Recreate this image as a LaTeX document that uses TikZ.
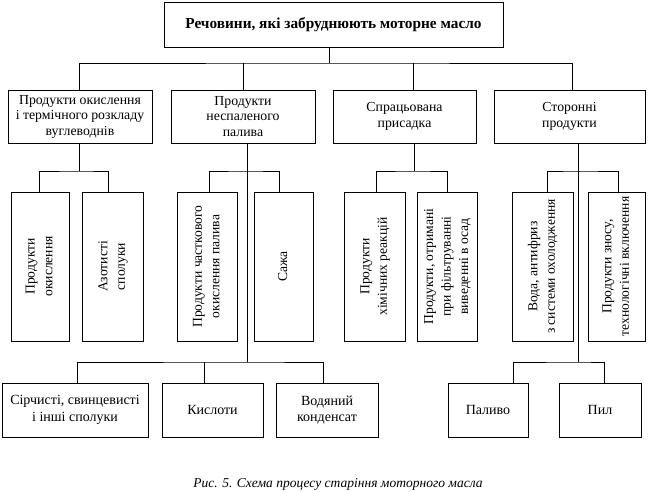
\documentclass[tikz,border=0pt]{standalone}
\usepackage{fontspec}
\usepackage{graphicx}
\setmainfont{Liberation Serif}
\newcommand{\vtext}[1]{\rotatebox{90}{\begin{tabular}{@{}c@{}}#1\end{tabular}}}
\tikzset{
  box/.style={draw, line width=0.9pt, inner sep=0pt, align=center},
  catbox/.style={box, minimum height=53pt, font=\fontsize{13.8}{15.5}\selectfont},
  vbox/.style={box, minimum height=149pt, font=\fontsize{13.6}{17.5}\selectfont},
  botbox/.style={box, minimum height=54pt, font=\fontsize{14}{16.5}\selectfont},
  conn/.style={line width=0.9pt}
}
\begin{document}
\begin{tikzpicture}[x=1pt,y=-1pt]
\useasboundingbox (0,0) rectangle (648,492);
% top
\node[box, minimum width=339pt, minimum height=45pt, font=\bfseries\fontsize{15.3}{17}\selectfont] (top) at (333.5,24.5) {Речовини, які забруднюють моторне масло};
% categories
\node[catbox, minimum width=144pt] (c1) at (80,116.5) {Продукти окислення\\і термічного розкладу\\вуглеводнів};
\node[catbox, minimum width=144pt] (c2) at (243,116.5) {Продукти\\неспаленого\\палива};
\node[catbox, minimum width=143pt] (c3) at (404.5,116.5) {Спрацьована\\присадка};
\node[catbox, minimum width=151pt] (c4) at (569.5,116.5) {Сторонні\\продукти};
% vertical boxes
\node[vbox, minimum width=58pt] (vA) at (40,266.5) {\vtext{Продукти\\окислення}};
\node[vbox, minimum width=61pt] (vB) at (112.5,266.5) {\vtext{Азотисті\\сполуки}};
\node[vbox, minimum width=60pt] (vC) at (207,266.5) {\vtext{Продукти часткового\\окислення палива}};
\node[vbox, minimum width=59pt] (vD) at (283.5,266.5) {\vtext{Сажа}};
\node[vbox, minimum width=61pt] (vE) at (374.5,266.5) {\vtext{Продукти\\хімічних реакцій}};
\node[vbox, minimum width=60pt] (vF) at (447,266.5) {\vtext{Продукти, отримані\\при фільтруванні\\виведенні в осад}};
\node[vbox, minimum width=61pt] (vG) at (542.5,266.5) {\vtext{Вода, антифриз\\з системи охолодження}};
\node[vbox, minimum width=57pt] (vH) at (616.5,266.5) {\vtext{Продукти зносу,\\технологічні включення}};
% bottom boxes
\node[botbox, minimum width=146pt] (b1) at (75,410) {Сірчисті, свинцевисті\\і інші сполуки};
\node[botbox, minimum width=101pt] (b2) at (212.5,410) {Кислоти};
\node[botbox, minimum width=102pt] (b3) at (327,410) {Водяний\\конденсат};
\node[botbox, minimum width=80pt] (b4) at (488,410) {Паливо};
\node[botbox, minimum width=82pt] (b5) at (600,410) {Пил};
% caption
\node[font=\itshape\fontsize{13.5}{15}\selectfont, anchor=base] (cap) at (338,487) {Рис. 5. Схема процесу старіння моторного масла};
% junctions
\coordinate (jt) at (329,63);
\coordinate (j1) at (79,171);
\coordinate (j2) at (247,171);
\coordinate (j3) at (414,171);
\coordinate (j4) at (578,171);
\coordinate (k2) at (247,362);
\coordinate (k4) at (578,362);
% connectors top -> categories
\draw[conn] (jt |- top.south) -- (jt);
\draw[conn] ([xshift=-1pt]c1.north) |- (jt) -| ([xshift=2.5pt]c4.north);
\draw[conn] (c2.north) -- (c2.north |- jt);
\draw[conn] ([xshift=8.5pt]c3.north) -- ([xshift=8.5pt]c3.north |- jt);
% category 1
\draw[conn] (j1 |- c1.south) -- (j1);
\draw[conn] ([xshift=-1pt]vA.north) |- (j1) -| ([xshift=-4.5pt]vB.north);
% category 2
\draw[conn] (j2 |- c2.south) -- (k2);
\draw[conn] ([xshift=2pt]vC.north) |- (j2) -| ([xshift=-4.5pt]vD.north);
\draw[conn] ([xshift=2pt]b1.north) |- (k2) -| ([xshift=-4pt]b3.north);
\draw[conn] ([xshift=-8.5pt]b2.north) -- ([xshift=-8.5pt]b2.north |- k2);
% category 3
\draw[conn] (j3 |- c3.south) -- (j3);
\draw[conn] ([xshift=1.5pt]vE.north) |- (j3) -| (vF.north);
% category 4
\draw[conn] (j4 |- c4.south) -- (k4);
\draw[conn] ([xshift=4.5pt]vG.north) |- (j4) -| ([xshift=1.5pt]vH.north);
\draw[conn] ([xshift=25pt]b4.north) |- (k4) -| ([xshift=4pt]b5.north);
\end{tikzpicture}
\end{document}
